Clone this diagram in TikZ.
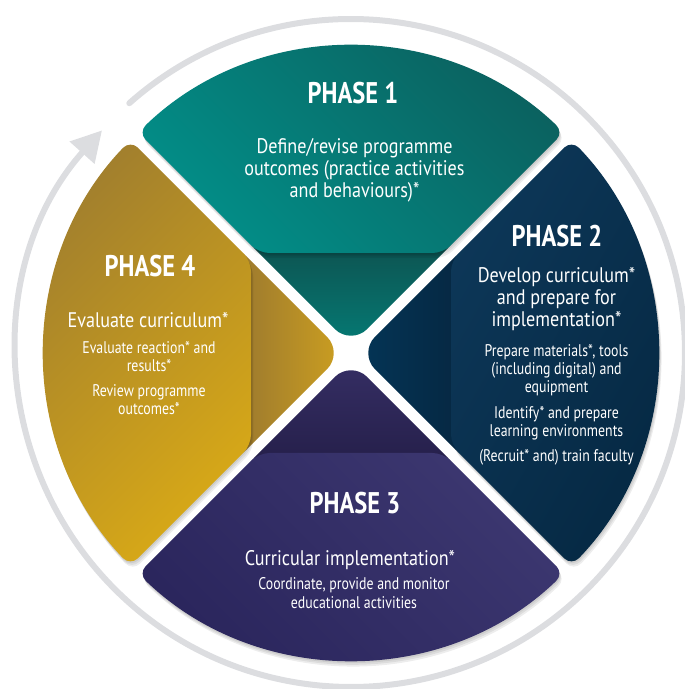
\documentclass[tikz,border=0pt]{standalone}
\usepackage{fontspec}
\setmainfont{PT Sans}[FakeStretch=0.82]
\newfontfamily\phasebodyfont{PT Sans}[FakeStretch=0.86]
\usetikzlibrary{arrows.meta,calc}

\definecolor{ringgray}{HTML}{DCDDE0}
\definecolor{tealfrontA}{HTML}{028E88}
\definecolor{tealfrontB}{HTML}{0B605E}
\definecolor{tealbackA}{HTML}{0E4F4D}
\definecolor{tealbackB}{HTML}{057A74}
\definecolor{navyfrontA}{HTML}{0D3758}
\definecolor{navyfrontB}{HTML}{052842}
\definecolor{navybackA}{HTML}{062640}
\definecolor{navybackB}{HTML}{043556}
\definecolor{purplefrontA}{HTML}{3C3770}
\definecolor{purplefrontB}{HTML}{2A255C}
\definecolor{purplebackA}{HTML}{241E48}
\definecolor{purplebackB}{HTML}{352E64}
\definecolor{goldfrontA}{HTML}{A07E2E}
\definecolor{goldfrontB}{HTML}{D8A917}
\definecolor{goldbackA}{HTML}{987630}
\definecolor{goldbackB}{HTML}{CC9F20}

\tikzset{
  phasetitle/.style={text=white, anchor=base, font=\bfseries\fontsize{17}{20}\selectfont},
  phasemain/.style={text=white, anchor=base, align=center, font=\phasebodyfont\fontsize{12}{12.8}\selectfont},
  phasesmall/.style={text=white, anchor=base, align=center, font=\fontsize{9.6}{10.25}\selectfont},
}

% outer part of a phase, #1 = direction
\newcommand{\frontpath}[1]{($(#1:2)+(#1+90:1.844)$) -- ($(#1:2)+(#1-90:1.844)$)
  -- (#1-43.97:6.13) arc[start angle=#1-43.97, end angle=#1+43.97, radius=6.13] -- cycle}
% inner part of a phase, pointing to the middle
\newcommand{\backpath}[1]{(#1:0.156) -- ($(#1:2.4)+(#1-90:2.244)$) -- ($(#1:2.4)+(#1+90:2.244)$) -- cycle}

\begin{document}
\begin{tikzpicture}
\useasboundingbox (-7.02,-6.72) rectangle (6.66,7.06);

% ring with arrow
\draw[ringgray, line width=0.12cm, line cap=round, -{Triangle[width=0.64cm, length=0.6cm]}]
  (131.6:6.68) arc[start angle=131.6, end angle=-221.8, radius=6.68];

% inner parts
\shade[rounded corners=13pt, top color=tealbackA, bottom color=tealbackB, shading angle=0] \backpath{90};
\shade[rounded corners=13pt, top color=navybackA, bottom color=navybackB, shading angle=-90] \backpath{0};
\shade[rounded corners=13pt, top color=purplebackA, bottom color=purplebackB, shading angle=180] \backpath{270};
\shade[rounded corners=13pt, top color=goldbackA, bottom color=goldbackB, shading angle=90] \backpath{180};

% soft shadows
\foreach \d in {90,0,270,180}
  \foreach \s in {1,2,3}
    \fill[black, opacity=0.07, rounded corners=6pt, shift={(0.015*\s,-0.035*\s)}] \frontpath{\d};

% outer parts
\shade[rounded corners=6pt, top color=tealfrontA, bottom color=tealfrontB, shading angle=135] \frontpath{90};
\shade[rounded corners=6pt, top color=navyfrontA, bottom color=navyfrontB, shading angle=60] \frontpath{0};
\shade[rounded corners=6pt, top color=purplefrontA, bottom color=purplefrontB, shading angle=-45] \frontpath{270};
\shade[rounded corners=6pt, top color=goldfrontA, bottom color=goldfrontB, shading angle=45] \frontpath{180};

% phase 1
\node[phasetitle] (p1title) at (0.04,4.98) {PHASE 1};
\node[phasemain] (p1text) at (0.07,3.1) {Define/revise programme\\outcomes (practice activities\\and behaviours)*};

% phase 2
\node[phasetitle] (p2title) at (4.12,2.12) {PHASE 2};
\node[phasemain] (p2text) at (4.11,0.52) {Develop curriculum*\\and prepare for\\implementation*};
\node[phasesmall] (p2tools) at (4.11,-0.8) {Prepare materials*, tools\\(including digital) and\\equipment};
\node[phasesmall] (p2places) at (4.11,-1.68) {Identify* and prepare\\learning environments};
\node[phasesmall] (p2faculty) at (4.11,-2.18) {(Recruit* and) train faculty};

% phase 3
\node[phasetitle] (p3title) at (0.08,-3.2) {PHASE 3};
\node[phasemain] (p3text) at (-0.02,-4.24) {Curricular implementation*};
\node[phasesmall] (p3tasks) at (0.06,-5.1) {Coordinate, provide and monitor\\educational activities};

% phase 4
\node[phasetitle] (p4title) at (-4.02,1.52) {PHASE 4};
\node[phasemain] (p4text) at (-4.06,0.5) {Evaluate curriculum*};
\node[phasesmall] (p4results) at (-4.04,-0.38) {Evaluate reaction* and\\results*};
\node[phasesmall] (p4review) at (-4.04,-1.24) {Review programme\\outcomes*};
\end{tikzpicture}
\end{document}
